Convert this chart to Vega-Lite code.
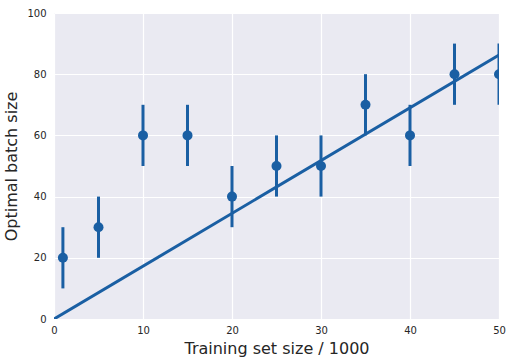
{
  "$schema": "https://vega.github.io/schema/vega-lite/v6.json",
  "width": 445,
  "height": 306,
  "autosize": "none",
  "padding": {"left": 54, "top": 13, "right": 13, "bottom": 44},
  "background": "white",
  "config": {
    "view": {"fill": "#EAEAF2", "stroke": null},
    "axis": {
      "grid": true, "gridColor": "white", "gridWidth": 1.2, "domain": false, "ticks": false, "labelFlush": false,
      "labelFont": "DejaVu Sans", "labelFontSize": 10, "labelColor": "#262626",
      "titleFont": "DejaVu Sans", "titleFontSize": 16, "titleFontWeight": "normal", "titleColor": "#262626"
    }
  },
  "datasets": {
    "pts": [
      {"size": 1, "batch": 20, "lo": 10, "hi": 30},
      {"size": 5, "batch": 30, "lo": 20, "hi": 40},
      {"size": 10, "batch": 60, "lo": 50, "hi": 70},
      {"size": 15, "batch": 60, "lo": 50, "hi": 70},
      {"size": 20, "batch": 40, "lo": 30, "hi": 50},
      {"size": 25, "batch": 50, "lo": 40, "hi": 60},
      {"size": 30, "batch": 50, "lo": 40, "hi": 60},
      {"size": 35, "batch": 70, "lo": 60, "hi": 80},
      {"size": 40, "batch": 60, "lo": 50, "hi": 70},
      {"size": 45, "batch": 80, "lo": 70, "hi": 90},
      {"size": 50, "batch": 80, "lo": 70, "hi": 90}
    ],
    "fit": [
      {"size": 0, "batch": 0},
      {"size": 50, "batch": 86.3}
    ]
  },
  "layer": [
    {
      "data": {"name": "fit"},
      "mark": {"type": "line", "color": "#1a5fa3", "strokeWidth": 3, "clip": true},
      "encoding": {
        "x": {"field": "size", "type": "quantitative", "scale": {"domain": [0, 50], "nice": false},
              "axis": {"values": [0, 10, 20, 30, 40, 50], "title": "Training set size / 1000", "labelPadding": 6, "titlePadding": 5}},
        "y": {"field": "batch", "type": "quantitative", "scale": {"domain": [0, 100], "nice": false},
              "axis": {"values": [0, 20, 40, 60, 80, 100], "title": "Optimal batch size", "labelPadding": 8, "titlePadding": 7}}
      }
    },
    {
      "data": {"name": "pts"},
      "mark": {"type": "rule", "color": "#1a5fa3", "strokeWidth": 3, "clip": true},
      "encoding": {
        "x": {"field": "size", "type": "quantitative"},
        "y": {"field": "lo", "type": "quantitative"},
        "y2": {"field": "hi"}
      }
    },
    {
      "data": {"name": "pts"},
      "mark": {"type": "circle", "color": "#1a5fa3", "opacity": 1, "size": 100, "clip": true},
      "encoding": {
        "x": {"field": "size", "type": "quantitative"},
        "y": {"field": "batch", "type": "quantitative"}
      }
    }
  ]
}
